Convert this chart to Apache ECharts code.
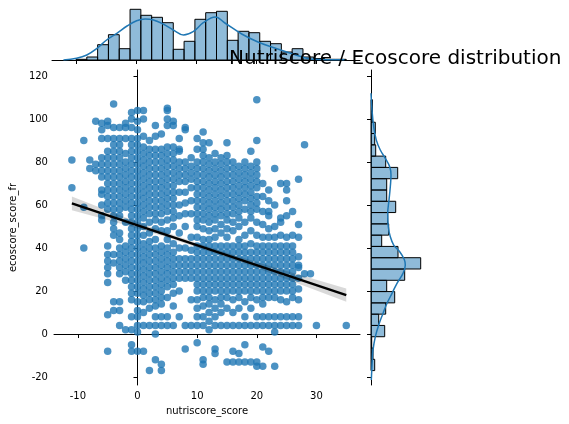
<!DOCTYPE html>
<html>
<head>
<meta charset="utf-8">
<script src="https://cdn.jsdelivr.net/npm/echarts@6/dist/echarts.min.js"></script>
<style>
  html, body { margin: 0; padding: 0; background: #fff; }
  #chart { width: 569px; height: 424px; }
</style>
</head>
<body>
<div id="chart"></div>
<script>
// nutriscore columns and the ecoscore values seen in each column
const nutriscoreColumns = [-11, -9, -8, -7, -6, -5, -4, -3, -2, -1, 0, 1, 2, 3, 4, 5, 6, 7, 8, 9, 10,
  11, 12, 13, 14, 15, 16, 17, 18, 19, 20, 21, 22, 23, 24, 25, 26, 27, 28, 29, 30, 35]
const ecoscoreColumns = [
  [81, 68],
  [90, 59, 40],
  [81, 77],
  [99, 79, 76],
  [98, 95, 91, 82, 79, 76, 73, 67, 65, 60, 55, 53],
  [99, 97, 91, 85, 82, 79, 76, 73, 70, 67, 64, 61, 58, 41, 37, 34, 31, 28, 24, 9, -8],
  [107, 96, 91, 88, 85, 82, 79, 76, 73, 70, 67, 64, 61, 58, 55, 52, 49, 46, 37, 33, 15, 11],
  [96, 91, 88, 85, 82, 79, 76, 73, 70, 67, 64, 61, 58, 55, 47, 44, 40, 37, 34, 31, 28, 15, 11, 4],
  [98, 96, 91, 84, 80, 77, 74, 71, 68, 65, 62, 59, 52, 41, 38, 35, 32, 29, 25, 2],
  [103, 100, 96, 91, 88, 85, 82, 79, 76, 73, 70, 67, 64, 61, 58, 55, 52, 49, 46, 43, 40, 37, 34, 31, 28, 25, 22, 19, 16, 8, 2, -5, -8],
  [104, 99, 95, 91, 88, 85, 82, 79, 76, 73, 70, 67, 64, 61, 58, 55, 52, 49, 46, 43, 40, 37, 34, 31, 28, 25, 22, 19, 15, 11, 8, 4, 1, -8],
  [104, 100, 92, 87, 84, 81, 78, 75, 72, 69, 66, 63, 60, 57, 54, 50, 46, 42, 39, 36, 33, 30, 27, 24, 21, 18, 15, 10, 4, -8],
  [90, 86, 83, 80, 77, 74, 71, 68, 65, 62, 59, 56, 52, 47, 43, 40, 37, 34, 31, 28, 25, 22, 19, 16, 12, 4, -17],
  [97, 92, 86, 83, 80, 77, 74, 71, 68, 65, 62, 59, 56, 53, 49, 44, 40, 37, 34, 31, 28, 25, 22, 19, 16, 13, 8, 4, 0, -12],
  [93, 86, 83, 80, 77, 74, 71, 68, 65, 62, 59, 56, 52, 48, 41, 38, 35, 32, 29, 26, 23, 20, 17, 14, 8, 4, -14, -17],
  [105, 104, 100, 97, 87, 84, 81, 78, 75, 72, 69, 66, 63, 60, 57, 53, 48, 44, 40, 37, 34, 31, 28, 25, 22, 17, 8, 4],
  [99, 97, 87, 84, 81, 78, 75, 72, 69, 66, 63, 60, 57, 54, 50, 42, 38, 35, 32, 29, 26, 23, 19, 13, 4],
  [91, 86, 85, 80, 77, 74, 71, 66, 60, 55, 47, 40, 35, 32, 29, 26, 20, 8],
  [96, 95, 80, 77, 74, 71, 66, 61, 56, 50, 40, 35, 32, 29, 26, 4, -7],
  [82, 78, 75, 72, 68, 62, 56, 45, 39, 35, 32, 29, 26, 16, 4],
  [91, 86, 80, 77, 74, 71, 68, 65, 62, 59, 56, 53, 50, 45, 41, 38, 35, 32, 29, 26, 23, 20, 16, 12, 8, 4, -4],
  [94, 89, 86, 83, 80, 77, 74, 71, 68, 65, 62, 59, 56, 53, 49, 44, 41, 38, 35, 32, 29, 26, 23, 20, 17, 13, 8, 4, -12, -14],
  [89, 82, 79, 76, 73, 70, 67, 64, 61, 58, 55, 52, 48, 44, 41, 38, 35, 32, 29, 26, 23, 20, 17, 14, 10, 6, 2],
  [84, 80, 77, 74, 71, 68, 65, 62, 59, 56, 53, 49, 45, 41, 38, 35, 32, 29, 26, 23, 20, 16, 12, 8, 4, -7, -9],
  [82, 79, 76, 73, 70, 67, 64, 61, 58, 55, 51, 47, 41, 38, 35, 32, 29, 26, 23, 20, 17, 14, 10, 4],
  [89, 83, 80, 77, 74, 71, 68, 65, 62, 59, 56, 53, 49, 45, 41, 38, 35, 32, 29, 26, 23, 20, 17, 12, 4, -13],
  [80, 77, 74, 71, 68, 65, 62, 59, 56, 52, 48, 41, 38, 35, 32, 29, 26, 23, 20, 16, 10, 4, -8, -13],
  [78, 75, 72, 69, 66, 63, 60, 57, 54, 50, 44, 41, 38, 35, 32, 29, 26, 23, 20, 17, 12, 4, -9, -13],
  [80, 77, 74, 71, 68, 65, 62, 58, 52, 46, 41, 38, 35, 32, 29, 26, 23, 20, 15, 8, 4, -5, -13],
  [85, 78, 75, 72, 69, 66, 63, 60, 57, 54, 48, 42, 38, 35, 32, 29, 26, 23, 20, 17, 12, 4, -13],
  [109, 90, 80, 77, 74, 71, 68, 64, 61, 58, 52, 46, 41, 38, 35, 32, 29, 26, 23, 20, 16, 8, 4, -13, -15],
  [70, 64, 57, 51, 45, 41, 38, 35, 32, 29, 26, 23, 20, 17, 14, 8, 4, -6, -15],
  [67, 62, 57, 55, 49, 45, 41, 38, 35, 32, 29, 26, 23, 20, 17, 8, 4, -8],
  [77, 60, 50, 45, 41, 38, 35, 32, 29, 26, 23, 20, 17, 8, 4, 1, -15],
  [70, 54, 52, 46, 41, 38, 35, 32, 29, 26, 23, 20, 16, 8, 4],
  [70, 67, 62, 55, 45, 41, 38, 35, 32, 29, 26, 23, 20, 15, 8, 4],
  [57, 46, 41, 38, 35, 32, 29, 26, 23, 20, 17, 8, 4],
  [72, 51, 45, 36, 32, 31, 26, 21, 16, 8, 4],
  [88, 28],
  [28],
  [4],
  [4]
]

// regression line and its confidence band
const regX = [-11, 35]
const regY = [60.8, 18.1]
const ciX = [-11, -5, 0, 5, 10, 15, 20, 25, 30, 35]
const ciHigh = [64.0, 57.4, 52.1, 47.1, 42.3, 37.8, 33.5, 29.3, 25.3, 21.2]
const ciLow = [57.6, 53.0, 49.1, 44.9, 40.3, 35.6, 30.7, 25.5, 20.3, 15.0]

// marginal histogram of nutriscore (bin start, width, counts)
const nutriBinStart = -10
const nutriBinWidth = 1.8
const nutriCounts = [0.7, 3, 15.3, 25.3, 11.3, 50.7, 44.7, 42.7, 37.3, 10.7, 18.7, 40.7, 47.3,
  48.7, 19.7, 28.7, 27.3, 18.7, 16.3, 8, 11.3, 3, 1.5, 0.7, 0.7]
const nutriKdeX = [-12.1, -9.9, -8.2, -6.5, -4.9, -3.2, -1.5, 0.1, 1.5, 2.9, 4.5, 6.2, 7.9, 9.5,
  11.2, 13.2, 14.8, 17.6, 20.3, 23.1, 25.9, 28.1, 29.4, 34.7]
const nutriKdeY = [0, 1.7, 5, 11.7, 20, 26.7, 34, 39.3, 41, 40, 36, 30, 25, 28.3,
  37.3, 43, 37, 26, 18, 12, 6.4, 2.2, 0.8, 0.2]

// marginal histogram of ecoscore
const ecoBinStart = -17
const ecoBinWidth = 5.25
const ecoCounts = [3.7, 2, 0.7, 13.7, 7.7, 14.7, 23.7, 15.7, 33.7, 49.7, 27, 10.7, 17.7, 16.7,
  24.7, 15.7, 15.7, 26.7, 14.7, 4.7, 3.7, 4.3, 1.4, 1.4]
const ecoKdeY = [112, 104.2, 96.4, 90.2, 85.6, 81.7, 77.8, 74, 68.5, 62.3, 56.1, 49.9, 45.3, 41.4,
  38.3, 34.7, 32.1, 28.2, 23.6, 18.9, 14.3, 9.6, 4.2, -1.3, -7.4, -12.1, -17.5, -21.4]
const ecoKdeX = [0, 1, 2.7, 5.3, 9.3, 14.3, 18.7, 20, 19.3, 18, 16.7, 17.3, 19.3, 22.7,
  28.7, 33.3, 34.3, 32, 26, 21, 16, 12, 7.7, 4.3, 2, 1.3, 0.7, 0.3]

const xTicks = [-10, 0, 10, 20, 30]
const yTicks = [-20, 0, 20, 40, 60, 80, 100, 120]

const points = []
nutriscoreColumns.forEach(function (x, i) {
  ecoscoreColumns[i].forEach(function (y) { points.push([x, y]) })
})

const nutriBins = nutriCounts.map(function (c, i) {
  return [nutriBinStart + i * nutriBinWidth, nutriBinStart + (i + 1) * nutriBinWidth, c]
})
const ecoBins = ecoCounts.map(function (c, i) {
  return [ecoBinStart + i * ecoBinWidth, ecoBinStart + (i + 1) * ecoBinWidth, c]
})

const font = 'DejaVu Sans'
const blue = '#1f77b4'
const histFill = 'rgba(31,119,180,0.5)'
const axisLine = { show: true, lineStyle: { color: '#000', width: 1 } }
const tick = function (vals) {
  return { show: true, inside: false, length: 4, customValues: vals, lineStyle: { color: '#000', width: 1 } }
}

const chart = echarts.init(document.getElementById('chart'))

chart.setOption({
  animation: false,
  backgroundColor: '#fff',
  textStyle: { fontFamily: font },
  title: {
    text: 'Nutriscore / Ecoscore distribution',
    left: 229,
    top: 49,
    padding: 0,
    textStyle: { fontFamily: font, fontSize: 20, fontWeight: 'normal', color: '#000' }
  },
  grid: [
    { left: 52, top: 70, width: 308, height: 315 },
    { left: 52, top: 5, width: 308, height: 55 },
    { left: 371, top: 70, width: 53, height: 315 }
  ],
  xAxis: [
    {
      gridIndex: 0, type: 'value', min: -14, max: 37.3,
      axisLine: axisLine, axisTick: tick(xTicks), splitLine: { show: false },
      axisLabel: { customValues: xTicks, color: '#000', fontSize: 10, margin: 6, fontFamily: font },
      name: 'nutriscore_score', nameLocation: 'middle', nameGap: 21,
      nameTextStyle: { color: '#000', fontSize: 10, fontFamily: font }
    },
    {
      gridIndex: 1, type: 'value', min: -14, max: 37.3,
      axisLine: axisLine, axisTick: tick(xTicks), splitLine: { show: false },
      axisLabel: { show: false }
    },
    { gridIndex: 2, type: 'value', min: 0, max: 53, show: false }
  ],
  yAxis: [
    {
      gridIndex: 0, type: 'value', min: -23.7, max: 122.8,
      axisLine: axisLine, axisTick: tick(yTicks), splitLine: { show: false },
      axisLabel: { customValues: yTicks, color: '#000', fontSize: 10, margin: 6, fontFamily: font },
      name: 'ecoscore_score_fr', nameLocation: 'middle', nameGap: 32,
      nameTextStyle: { color: '#000', fontSize: 10, fontFamily: font }
    },
    { gridIndex: 1, type: 'value', min: 0, max: 55, show: false },
    {
      gridIndex: 2, type: 'value', min: -23.7, max: 122.8,
      axisLine: axisLine, axisTick: tick(yTicks), splitLine: { show: false },
      axisLabel: { show: false }
    }
  ],
  series: [
    {
      type: 'scatter', xAxisIndex: 0, yAxisIndex: 0,
      data: points, symbolSize: 7.5,
      itemStyle: { color: blue, opacity: 0.8 }, z: 2
    },
    {
      type: 'custom', xAxisIndex: 0, yAxisIndex: 0, data: [0], z: 3, silent: true,
      renderItem: function (params, api) {
        const pts = []
        ciX.forEach(function (x, i) { pts.push(api.coord([x, ciHigh[i]])) })
        for (let i = ciX.length - 1; i >= 0; i--) pts.push(api.coord([ciX[i], ciLow[i]]))
        return { type: 'polygon', shape: { points: pts }, style: { fill: 'rgba(0,0,0,0.15)', stroke: null } }
      }
    },
    {
      type: 'line', xAxisIndex: 0, yAxisIndex: 0, z: 4,
      data: regX.map(function (x, i) { return [x, regY[i]] }),
      showSymbol: false, lineStyle: { color: '#000', width: 2.5 }
    },
    {
      type: 'custom', xAxisIndex: 1, yAxisIndex: 1, data: nutriBins, z: 2,
      renderItem: function (params, api) {
        const a = api.coord([api.value(0), 0])
        const b = api.coord([api.value(1), api.value(2)])
        return {
          type: 'rect',
          shape: { x: a[0], y: b[1], width: b[0] - a[0], height: a[1] - b[1] },
          style: { fill: histFill, stroke: '#000', lineWidth: 1 }
        }
      }
    },
    {
      type: 'line', xAxisIndex: 1, yAxisIndex: 1, z: 3, smooth: 0.4,
      data: nutriKdeX.map(function (x, i) { return [x, nutriKdeY[i]] }),
      showSymbol: false, lineStyle: { color: blue, width: 1.5 }
    },
    {
      type: 'custom', xAxisIndex: 2, yAxisIndex: 2, data: ecoBins, z: 2,
      renderItem: function (params, api) {
        const a = api.coord([0, api.value(0)])
        const b = api.coord([api.value(2), api.value(1)])
        return {
          type: 'rect',
          shape: { x: a[0], y: b[1], width: b[0] - a[0], height: a[1] - b[1] },
          style: { fill: histFill, stroke: '#000', lineWidth: 1 }
        }
      }
    },
    {
      type: 'line', xAxisIndex: 2, yAxisIndex: 2, z: 3, smooth: 0.4,
      data: ecoKdeX.map(function (w, i) { return [w, ecoKdeY[i]] }),
      showSymbol: false, lineStyle: { color: blue, width: 1.5 }
    }
  ]
})

window.addEventListener('resize', chart.resize)
</script>
</body>
</html>
